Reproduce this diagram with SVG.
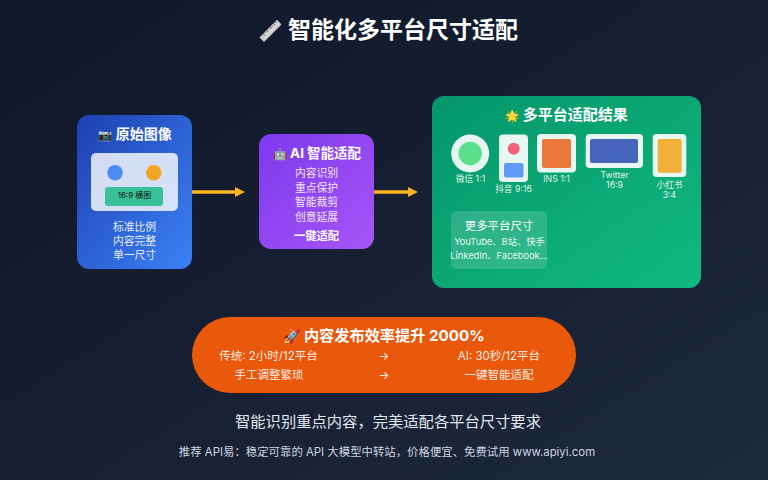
<svg xmlns="http://www.w3.org/2000/svg" width="768" height="480" viewBox="0 0 768 480">
<style>
text{font-family:"Inter","Noto Sans CJK SC",sans-serif;text-anchor:middle;fill:#fff}
.h{font-weight:700;font-size:14px}
.b{font-size:10.800px;fill-opacity:.9}
.l{font-size:8.700px;fill-opacity:.9}
.m{font-size:9.300px;fill-opacity:.9}
.o{font-size:11.500px;fill-opacity:.9}
.e{font-size:11.500px}
.c{stroke:#fbb324;stroke-width:3.500;fill:none;marker-end:url(#ah)}
</style>
<defs>
<linearGradient id="bg" x1="0" y1="0" x2="1" y2="1"><stop offset="0" stop-color="#0f172a"/><stop offset="1" stop-color="#1e293b"/></linearGradient>
<linearGradient id="blue" x1="0" y1="0" x2="1" y2="1"><stop offset="0" stop-color="#1e40af"/><stop offset="1" stop-color="#3b82f6"/></linearGradient>
<linearGradient id="purple" x1="0" y1="0" x2="1" y2="1"><stop offset="0" stop-color="#7c3aed"/><stop offset="1" stop-color="#a855f7"/></linearGradient>
<linearGradient id="green" x1="0" y1="0" x2="1" y2="1"><stop offset="0" stop-color="#059669"/><stop offset="1" stop-color="#10b981"/></linearGradient>
<marker id="ah" markerUnits="userSpaceOnUse" markerWidth="10" markerHeight="10" refX="0" refY="5" orient="auto"><path d="M0 0L10 5L0 10Z" fill="#fbb324"/></marker>
</defs>
<rect width="768" height="480" fill="url(#bg)"/>
<g id="title">
<text x="270" y="38" font-size="20" transform="translate(540 0) scale(-1 1)" style="filter:grayscale(1)">📏</text>
<text x="403" y="38" font-size="23" font-weight="700">智能化多平台尺寸适配</text>
</g>
<g id="connectors">
<path class="c" d="M192 192H235"/>
<path class="c" d="M374 192H408"/>
</g>
<g id="source">
<rect x="77" y="115" width="115" height="154" rx="12" fill="url(#blue)"/>
<text class="h" x="135" y="139"><tspan class="e">📷</tspan> 原始图像</text>
<rect x="91" y="153" width="87" height="58" rx="5" fill="#fff" fill-opacity=".8"/>
<circle cx="115" cy="172.700" r="7.700" fill="#3b82f6" fill-opacity=".9"/>
<circle cx="153.700" cy="172.700" r="7.700" fill="#f59e0b" fill-opacity=".9"/>
<rect x="105" y="187" width="58" height="19" rx="3" fill="#10b981" fill-opacity=".8"/>
<text x="134.500" y="197.500" font-size="8" style="fill:#111">16:9 横图</text>
<text class="b" x="134.500" y="231">标准比例</text>
<text class="b" x="134.500" y="245">内容完整</text>
<text class="b" x="134.500" y="259">单一尺寸</text>
</g>
<g id="ai">
<rect x="259" y="134" width="115" height="115" rx="12" fill="url(#purple)"/>
<text x="317" y="158" font-size="13.500" font-weight="700"><tspan class="e">🤖</tspan> AI 智能适配</text>
<text class="b" x="316.500" y="177">内容识别</text>
<text class="b" x="316.500" y="192">重点保护</text>
<text class="b" x="316.500" y="206">智能裁剪</text>
<text class="b" x="316.500" y="221">创意延展</text>
<text x="316.500" y="240" font-size="11.300" font-weight="700">一键适配</text>
</g>
<g id="results">
<rect x="432" y="96" width="269" height="192" rx="12" fill="url(#green)"/>
<text x="566.500" y="120" font-size="15" font-weight="700"><tspan class="e">🌟</tspan> 多平台适配结果</text>
</g>
<g id="wechat">
<circle cx="470.200" cy="153.500" r="19" fill="#fff" fill-opacity=".9"/>
<circle cx="470.200" cy="153.500" r="11.700" fill="#4ade80" fill-opacity=".9"/>
<text class="l" x="470.500" y="182">微信 1:1</text>
</g>
<g id="douyin">
<rect x="499" y="134.500" width="29" height="47.500" rx="4" fill="#fff" fill-opacity=".9"/>
<circle cx="513.700" cy="148.700" r="6" fill="#f43f5e" fill-opacity=".8"/>
<rect x="504" y="163" width="19.500" height="14.500" rx="2" fill="#3b82f6" fill-opacity=".8"/>
<text class="l" x="513.500" y="192">抖音 9:16</text>
</g>
<g id="ins">
<rect x="537" y="134" width="39" height="38.500" rx="4" fill="#fff" fill-opacity=".9"/>
<rect x="542" y="139" width="29" height="29" rx="2" fill="#ea580c" fill-opacity=".8"/>
<text class="l" x="556.500" y="182">INS 1:1</text>
</g>
<g id="twitter">
<rect x="585.700" y="134" width="57.300" height="34" rx="4" fill="#fff" fill-opacity=".9"/>
<rect x="590" y="139" width="48" height="24" rx="2" fill="#1e40af" fill-opacity=".8"/>
<text class="l" x="614.500" y="178">Twitter</text>
<text class="l" x="614.500" y="187.500">16:9</text>
</g>
<g id="xiaohongshu">
<rect x="652.700" y="134" width="33.600" height="43" rx="4" fill="#fff" fill-opacity=".9"/>
<rect x="657.700" y="139" width="24" height="33.700" rx="2" fill="#f59e0b" fill-opacity=".8"/>
<text class="l" x="669.500" y="188">小红书</text>
<text class="l" x="669.500" y="197.500">3:4</text>
</g>
<g id="more">
<rect x="451" y="211" width="96" height="58" rx="6" fill="#fff" fill-opacity=".15"/>
<text x="499" y="230" font-size="11.400">更多平台尺寸</text>
<text class="m" x="499.500" y="245">YouTube、B站、快手</text>
<text class="m" x="499" y="259">LinkedIn、Facebook...</text>
</g>
<g id="efficiency">
<rect x="192" y="317" width="384" height="76" rx="38" fill="#ea580c"/>
<text x="384" y="341" font-size="15.200" font-weight="700"><tspan font-size="14">🚀</tspan> 内容发布效率提升 2000%</text>
<text class="o" x="268.500" y="360">传统: 2小时/12平台</text>
<text class="o" x="384" y="360">→</text>
<text class="o" x="499" y="360">AI: 30秒/12平台</text>
<text class="o" x="269" y="379">手工调整繁琐</text>
<text class="o" x="384" y="379">→</text>
<text class="o" x="499" y="379">一键智能适配</text>
</g>
<text id="subtitle" x="388" y="427" font-size="15.300" style="fill:#e2e8f0">智能识别重点内容，完美适配各平台尺寸要求</text>
<text id="footer" x="387" y="456" font-size="11.400" style="fill:#cbd5e1">推荐 API易：稳定可靠的 API 大模型中转站，价格便宜、免费试用 www.apiyi.com</text>
</svg>
